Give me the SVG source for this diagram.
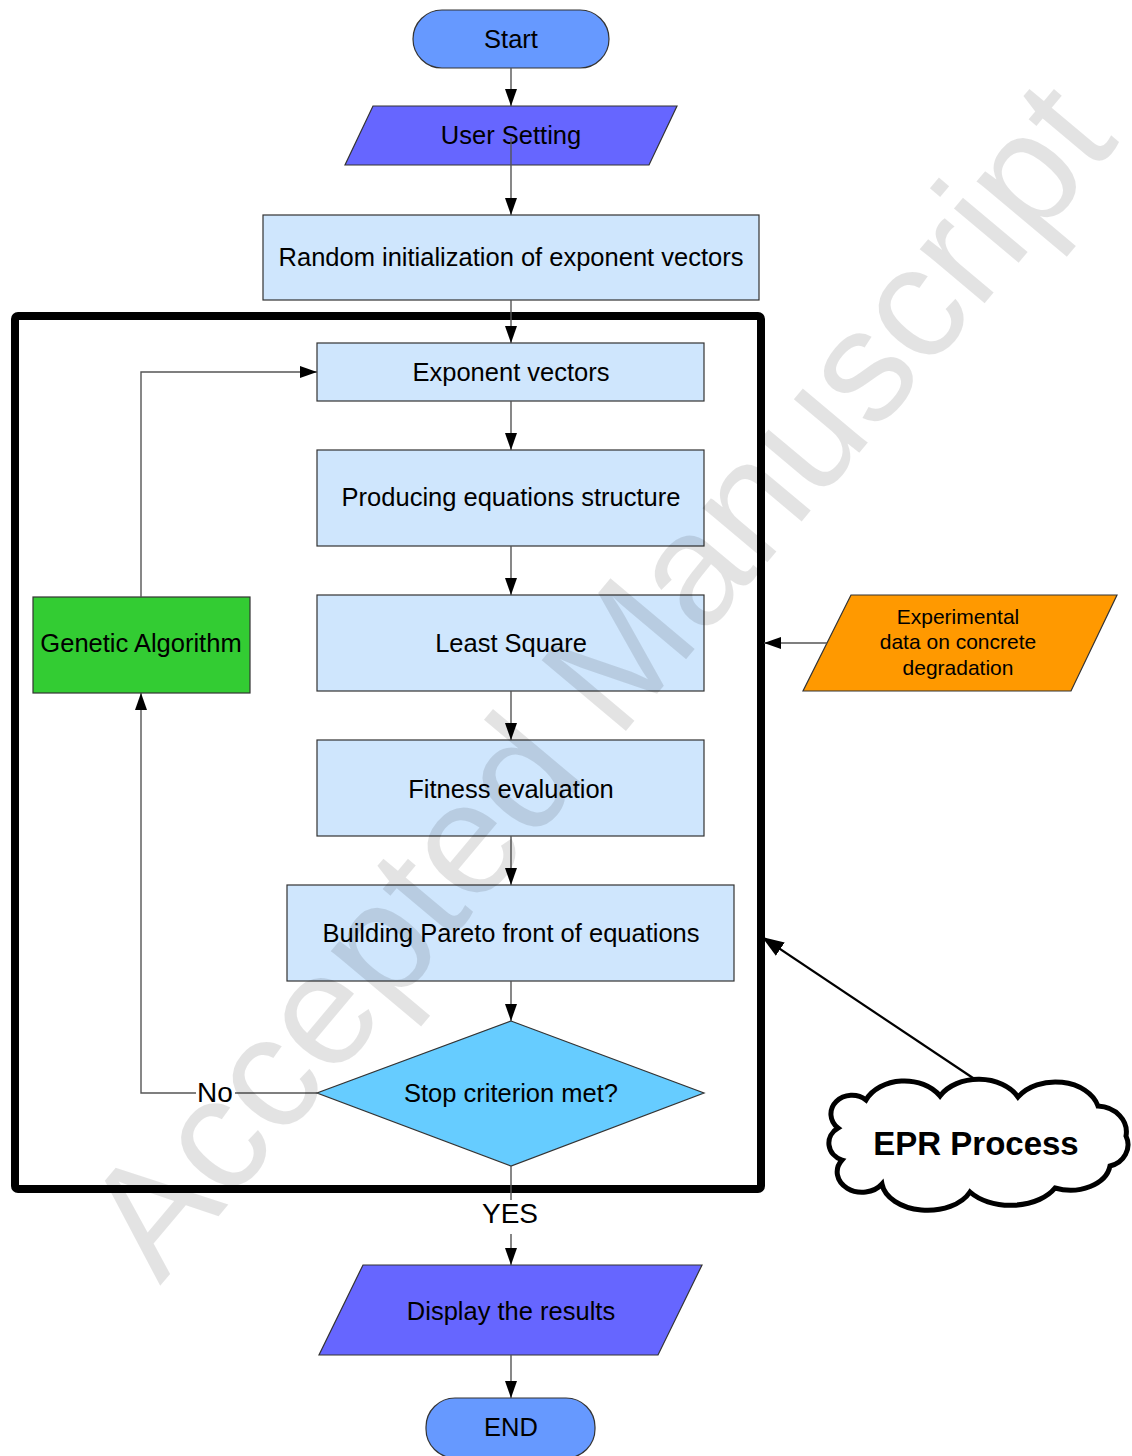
<svg xmlns="http://www.w3.org/2000/svg" width="1132" height="1456" viewBox="0 0 1132 1456">
<defs>
<style>
.box{fill:#cfe6fd;stroke:#333;stroke-width:1.2}
.t{font-family:"Liberation Sans",Arial,sans-serif;font-size:25.5px;fill:#000;text-anchor:middle}
.con{fill:none;stroke:#555;stroke-width:1.4}
</style>
<marker id="ah" markerUnits="userSpaceOnUse" markerWidth="17" markerHeight="12" refX="17" refY="6" orient="auto">
<path d="M0,0 L17,6 L0,12 z" fill="#000"/>
</marker>
<marker id="ahb" markerUnits="userSpaceOnUse" markerWidth="22" markerHeight="16" refX="22" refY="8" orient="auto">
<path d="M0,0 L22,8 L0,16 z" fill="#000"/>
</marker>
</defs>
<rect width="1132" height="1456" fill="#fff"/>

<g id="epr-frame">
<rect x="15" y="316" width="746" height="873" rx="3" fill="none" stroke="#000" stroke-width="8"/>
</g>

<g id="start">
<rect x="413" y="10" width="196" height="58" rx="29" fill="#6699ff" stroke="#333" stroke-width="1.2"/>
<text class="t" x="511" y="48">Start</text>
</g>
<g id="user-setting">
<polygon points="373,106 677,106 649,165 345,165" fill="#6666ff" stroke="#333" stroke-width="1.2"/>
<text class="t" x="511" y="144">User Setting</text>
</g>
<g id="random-init">
<rect class="box" x="263" y="215" width="496" height="85"/>
<text class="t" x="511" y="266">Random initialization of exponent vectors</text>
</g>
<g id="exponent-vectors">
<rect class="box" x="317" y="343" width="387" height="58"/>
<text class="t" x="511" y="381">Exponent vectors</text>
</g>
<g id="producing">
<rect class="box" x="317" y="450" width="387" height="96"/>
<text class="t" x="511" y="506">Producing equations structure</text>
</g>
<g id="least-square">
<rect class="box" x="317" y="595" width="387" height="96"/>
<text class="t" x="511" y="652">Least Square</text>
</g>
<g id="fitness">
<rect class="box" x="317" y="740" width="387" height="96"/>
<text class="t" x="511" y="798">Fitness evaluation</text>
</g>
<g id="pareto">
<rect class="box" x="287" y="885" width="447" height="96"/>
<text class="t" x="511" y="942">Building Pareto front of equations</text>
</g>
<g id="stop">
<polygon points="511,1021 704,1093 511,1166 317,1093" fill="#66ccff" stroke="#333" stroke-width="1.2"/>
<text class="t" x="511" y="1102">Stop criterion met?</text>
</g>
<g id="genetic">
<rect x="33" y="597" width="217" height="96" fill="#33cc33" stroke="#333" stroke-width="1.2"/>
<text class="t" x="141" y="652">Genetic Algorithm</text>
</g>
<g id="display">
<polygon points="363,1265 702,1265 658,1355 319,1355" fill="#6666ff" stroke="#333" stroke-width="1.2"/>
<text class="t" x="511" y="1320">Display the results</text>
</g>
<g id="end">
<rect x="426" y="1398" width="169" height="60" rx="29" fill="#6699ff" stroke="#333" stroke-width="1.2"/>
<text class="t" x="511" y="1436">END</text>
</g>
<g id="experimental">
<polygon points="851,595 1117,595 1071,691 803,691" fill="#ff9900" stroke="#333" stroke-width="1.2"/>
<text class="t" style="font-size:21px" x="958" y="624">Experimental</text>
<text class="t" style="font-size:21px" x="958" y="649">data on concrete</text>
<text class="t" style="font-size:21px" x="958" y="675">degradation</text>
</g>
<g id="epr-cloud">
<path d="M838,1128 A18,16 0 0 1 866,1100 A42,32 0 0 1 940,1096 A44,32 0 0 1 1018,1097 A44,32 0 0 1 1098,1106 A30,26 0 0 1 1126,1136 A24,22 0 0 1 1110,1166 A40,28 0 0 1 1055,1188 A50,32 0 0 1 970,1192 A46,30 0 0 1 882,1184 A22,18 0 0 1 842,1160 A20,18 0 0 1 838,1128 z" fill="#fff" stroke="#000" stroke-width="5"/>
<text x="976" y="1155" style="font-family:'Liberation Sans',Arial,sans-serif;font-size:33px;font-weight:bold;text-anchor:middle">EPR Process</text>
</g>

<g id="connectors">
<path class="con" d="M511,68 V106" marker-end="url(#ah)"/>
<path class="con" d="M511,138 V215" marker-end="url(#ah)"/>
<path class="con" d="M511,300 V343" marker-end="url(#ah)"/>
<path class="con" d="M511,401 V450" marker-end="url(#ah)"/>
<path class="con" d="M511,546 V595" marker-end="url(#ah)"/>
<path class="con" d="M511,691 V740" marker-end="url(#ah)"/>
<path class="con" d="M511,836 V885" marker-end="url(#ah)"/>
<path class="con" d="M511,981 V1021" marker-end="url(#ah)"/>
<path class="con" d="M511,1166 V1200 M511,1234 V1265" marker-end="url(#ah)"/>
<path class="con" d="M511,1355 V1398" marker-end="url(#ah)"/>
<path class="con" d="M317,1093 H235 M196,1093 H141 V693" marker-end="url(#ah)"/>
<path class="con" d="M141,597 V372 H317" marker-end="url(#ah)"/>
<path class="con" d="M827,643 H764" marker-end="url(#ah)"/>
<path d="M973,1078 L762,937" fill="none" stroke="#000" stroke-width="2.2" marker-end="url(#ahb)"/>
<text class="t" style="font-size:28px" x="215" y="1102">No</text>
<text class="t" style="font-size:28px" x="510" y="1223">YES</text>
</g>

<g id="watermark">
<text x="160" y="1286" transform="rotate(-50 160 1286)" style="font-family:'Liberation Sans',Arial,sans-serif;font-size:160px;fill:#000;fill-opacity:0.11">Accepted Manuscript</text>
</g>
</svg>
